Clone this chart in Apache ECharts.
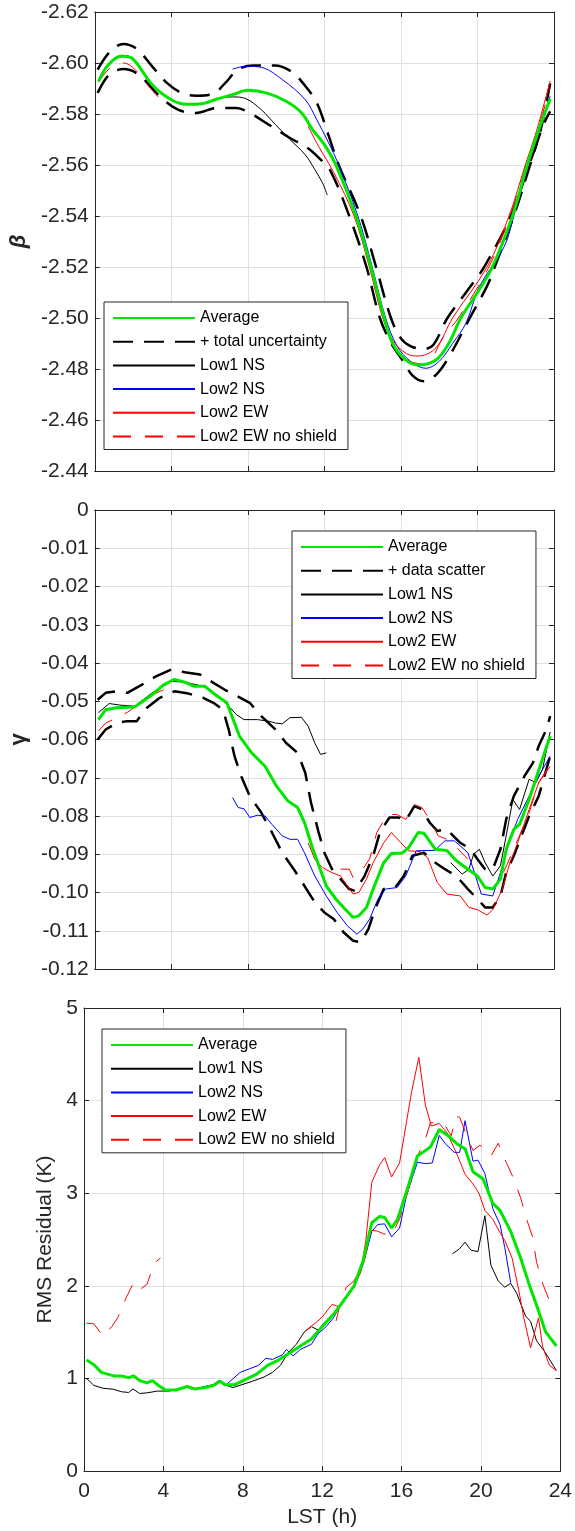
<!DOCTYPE html>
<html>
<head>
<meta charset="utf-8">
<script src="https://cdn.jsdelivr.net/npm/echarts@6/dist/echarts.min.js"></script>
<style>
html, body { margin: 0; padding: 0; background: #fff; }
#chart { width: 575px; height: 1531px; }
</style>
</head>
<body>
<div id="chart"></div>
<script>
// tick labels
const hourTicks = [0, 4, 8, 12, 16, 20, 24];
const betaTicks = [-2.62, -2.60, -2.58, -2.56, -2.54, -2.52, -2.50, -2.48, -2.46, -2.44];
const gammaTicks = [-0.12, -0.11, -0.10, -0.09, -0.08, -0.07, -0.06, -0.05, -0.04, -0.03, -0.02, -0.01, 0];
const rmsTicks = [0, 1, 2, 3, 4, 5];

// panel 1: beta  [LST h, value]
const avgBeta = [[0.2,-2.5928],[0.7,-2.5992],[1.4,-2.6026],[2.0,-2.6015],[3.0,-2.5915],[4.0,-2.5856],[4.8,-2.5838],[5.6,-2.5840],[6.4,-2.5859],[7.2,-2.5876],[8.0,-2.5893],[9.0,-2.5882],[10.0,-2.5850],[10.8,-2.5805],[11.4,-2.5737],[12.0,-2.5680],[12.6,-2.5600],[13.65,-2.5400],[14.43,-2.5200],[15.13,-2.5000],[15.57,-2.4900],[16.26,-2.4835],[16.96,-2.4816],[17.83,-2.4835],[18.5,-2.4900],[19.13,-2.5000],[20.0,-2.5100],[20.78,-2.5200],[21.83,-2.5400],[22.6,-2.5600],[23.2,-2.5737],[23.8,-2.5860]];
const upperBeta = [[0.15,-2.5974],[0.8,-2.6045],[1.5,-2.6075],[2.2,-2.6055],[3.0,-2.5987],[3.8,-2.5920],[4.6,-2.5880],[5.3,-2.5872],[6.2,-2.5880],[6.8,-2.5920],[7.5,-2.5975],[8.3,-2.5990],[9.4,-2.5990],[10.3,-2.5965],[11.0,-2.5910],[11.6,-2.5845],[12.2,-2.5720],[12.75,-2.5600],[13.9,-2.5400],[14.7,-2.5200],[15.48,-2.5000],[16.0,-2.4920],[16.5,-2.4890],[17.2,-2.4878],[17.7,-2.4895],[18.43,-2.5000],[19.4,-2.5100],[20.35,-2.5200],[21.74,-2.5400],[22.7,-2.5600],[23.3,-2.5737],[23.8,-2.5920]];
const lowerBeta = [[0.15,-2.5882],[0.75,-2.5954],[1.5,-2.5976],[2.3,-2.5954],[3.4,-2.5869],[4.35,-2.5817],[5.3,-2.5804],[6.4,-2.5824],[7.4,-2.5824],[8.1,-2.5804],[9.1,-2.5758],[10.2,-2.5706],[11.1,-2.5668],[11.74,-2.5626],[12.3,-2.5580],[13.3,-2.5400],[14.2,-2.5200],[14.9,-2.5000],[15.5,-2.4900],[16.1,-2.4833],[16.6,-2.4775],[17.2,-2.4752],[17.83,-2.4777],[18.5,-2.4846],[19.6,-2.5000],[20.5,-2.5125],[20.9,-2.5200],[21.9,-2.5400],[22.75,-2.5600],[23.4,-2.5750],[23.8,-2.5810]];
const low1Beta = [[0.2,-2.5935],[0.7,-2.5995],[1.4,-2.6030],[2.0,-2.6018],[3.0,-2.5918],[4.0,-2.5858],[4.8,-2.5838],[5.6,-2.5842],[6.4,-2.5860],[7.2,-2.5867],[7.9,-2.5860],[8.7,-2.5817],[9.45,-2.5758],[10.2,-2.5700],[11.0,-2.5640],[11.5,-2.5582],[11.9,-2.5530],[12.15,-2.5482]];
const low2nsBeta = [[7.2,-2.5976],[7.9,-2.5987],[8.7,-2.5983],[9.8,-2.5935],[11.0,-2.5856],[11.6,-2.5778],[12.2,-2.5690],[12.75,-2.5600],[13.75,-2.5400],[14.5,-2.5200],[15.2,-2.5000],[15.8,-2.4890],[16.5,-2.4830],[17.3,-2.4803],[18.0,-2.4830],[18.7,-2.4900],[19.4,-2.4980],[20.1,-2.5123],[21.4,-2.5280],[21.9,-2.5400],[22.65,-2.5600],[23.25,-2.5740],[23.8,-2.5870]];
const low2ewBeta = [[11.15,-2.5752],[11.7,-2.5673],[12.5,-2.5569],[13.55,-2.5400],[14.35,-2.5200],[15.05,-2.5000],[15.6,-2.4910],[16.3,-2.4860],[16.9,-2.4851],[17.83,-2.4883],[18.7,-2.5000],[20.5,-2.5200],[21.65,-2.5400],[22.5,-2.5600],[23.1,-2.5737],[23.8,-2.5930]];
const noShieldBetaA = [[0.2,-2.5925],[0.8,-2.5980],[1.5,-2.6000],[2.1,-2.5975],[2.8,-2.5910],[3.4,-2.5860]];
const noShieldBetaB = [[16.4,-2.4830],[17.2,-2.4818],[18.3,-2.4935],[19.0,-2.5000],[20.6,-2.5200],[21.7,-2.5400],[22.55,-2.5600],[23.15,-2.5737],[23.8,-2.5905]];

// panel 2: gamma
const avgGamma = [[0.19,-0.0548],[0.57,-0.0522],[1.13,-0.0517],[2.08,-0.0515],[3.0,-0.0483],[3.6,-0.0457],[4.16,-0.0443],[4.7,-0.0450],[5.2,-0.0461],[5.76,-0.0461],[6.3,-0.0483],[6.9,-0.0504],[7.56,-0.0591],[8.2,-0.0635],[8.9,-0.0670],[9.5,-0.0722],[10.1,-0.0761],[10.6,-0.0778],[10.96,-0.0817],[11.4,-0.0887],[12.1,-0.0983],[12.6,-0.1017],[13.0,-0.1039],[13.5,-0.1065],[13.8,-0.1061],[14.2,-0.1039],[14.55,-0.0991],[15.1,-0.0922],[15.5,-0.0898],[16.06,-0.0897],[16.4,-0.0883],[16.9,-0.0843],[17.2,-0.0845],[17.8,-0.0887],[18.4,-0.0890],[18.9,-0.0917],[19.5,-0.0939],[20.0,-0.0957],[20.4,-0.0987],[20.8,-0.0991],[21.2,-0.0965],[21.5,-0.0887],[21.9,-0.0835],[22.2,-0.0822],[22.7,-0.0757],[23.1,-0.0696],[23.5,-0.0635],[23.8,-0.0591]];
const upperGamma = [[0.15,-0.0496],[0.57,-0.0478],[1.13,-0.0474],[1.7,-0.0478],[2.45,-0.0457],[3.2,-0.0435],[4.0,-0.0417],[4.7,-0.0424],[5.5,-0.0430],[6.2,-0.0452],[6.8,-0.0470],[7.46,-0.0487],[8.1,-0.0504],[8.7,-0.0539],[9.45,-0.0574],[10.0,-0.0609],[10.6,-0.0635],[11.0,-0.0687],[11.3,-0.0765],[11.7,-0.0843],[12.0,-0.0896],[12.4,-0.0939],[12.85,-0.0965],[13.3,-0.0991],[13.6,-0.0996],[14.1,-0.0957],[14.55,-0.0904],[14.9,-0.0843],[15.4,-0.0804],[15.9,-0.0804],[16.25,-0.0813],[16.7,-0.0774],[17.1,-0.0783],[17.5,-0.0817],[17.9,-0.0839],[18.4,-0.0835],[19.1,-0.0870],[19.65,-0.0887],[20.0,-0.0913],[20.4,-0.0939],[20.8,-0.0939],[21.2,-0.0887],[21.5,-0.0809],[21.9,-0.0748],[22.45,-0.0696],[22.9,-0.0661],[23.2,-0.0617],[23.6,-0.0574],[23.8,-0.0539]];
const lowerGamma = [[0.15,-0.0600],[0.57,-0.0574],[1.13,-0.0557],[1.7,-0.0552],[2.2,-0.0552],[2.6,-0.0522],[3.4,-0.0491],[4.16,-0.0474],[4.9,-0.0480],[5.67,-0.0491],[6.2,-0.0504],[6.7,-0.0522],[7.0,-0.0574],[7.3,-0.0643],[7.65,-0.0696],[8.1,-0.0748],[8.7,-0.0791],[9.26,-0.0843],[9.8,-0.0896],[10.4,-0.0939],[10.96,-0.0983],[11.5,-0.1026],[12.0,-0.1052],[12.5,-0.1070],[13.0,-0.1104],[13.5,-0.1126],[13.9,-0.1130],[14.3,-0.1096],[14.65,-0.1043],[15.1,-0.0991],[15.7,-0.0987],[16.15,-0.0957],[16.6,-0.0904],[17.2,-0.0896],[17.8,-0.0922],[18.3,-0.0939],[18.9,-0.0957],[19.5,-0.0991],[20.0,-0.1017],[20.4,-0.1039],[20.8,-0.1039],[21.2,-0.1009],[21.5,-0.0948],[21.9,-0.0904],[22.3,-0.0852],[22.7,-0.0800],[23.2,-0.0748],[23.8,-0.0643]];
const low1GammaA = [[0.19,-0.0530],[0.75,-0.0506],[1.3,-0.0510],[2.08,-0.0513],[3.0,-0.0478],[4.0,-0.0448],[4.7,-0.0450],[5.67,-0.0461],[6.4,-0.0483],[7.0,-0.0513],[7.4,-0.0535],[7.8,-0.0548],[8.5,-0.0548],[9.07,-0.0552],[9.45,-0.0557],[9.8,-0.0559],[10.2,-0.0543],[10.8,-0.0542],[11.15,-0.0565],[11.5,-0.0609],[11.8,-0.0639],[12.1,-0.0635]];
const low1GammaB = [[18.6,-0.0922],[19.2,-0.0952],[19.55,-0.0939],[19.8,-0.0900],[20.1,-0.0887],[20.4,-0.0922],[20.8,-0.0957],[21.2,-0.0930],[21.5,-0.0852],[21.85,-0.0757],[22.2,-0.0783],[22.7,-0.0704],[23.05,-0.0713],[23.4,-0.0678],[23.8,-0.0580]];
const low2nsGamma = [[7.2,-0.0752],[7.5,-0.0778],[7.8,-0.0781],[8.1,-0.0804],[8.5,-0.0798],[8.9,-0.0800],[9.26,-0.0822],[9.8,-0.0852],[10.2,-0.0861],[10.6,-0.0861],[10.96,-0.0896],[11.5,-0.0957],[12.1,-0.1009],[12.66,-0.1052],[13.2,-0.1087],[13.7,-0.1109],[14.0,-0.1096],[14.36,-0.1070],[14.8,-0.1017],[15.2,-0.0991],[15.8,-0.0987],[16.25,-0.0957],[16.8,-0.0891],[17.4,-0.0890],[17.76,-0.0890],[18.3,-0.0865],[18.8,-0.0865],[19.5,-0.0896],[19.84,-0.0948],[20.2,-0.1004],[20.8,-0.1009],[21.2,-0.0948],[21.7,-0.0861],[22.1,-0.0809],[22.7,-0.0748],[23.2,-0.0696],[23.8,-0.0643]];
const low2ewGamma = [[11.15,-0.0870],[11.5,-0.0913],[11.9,-0.0935],[12.4,-0.0948],[12.85,-0.0957],[13.2,-0.0983],[13.5,-0.1004],[13.8,-0.1000],[14.2,-0.0965],[14.55,-0.0922],[15.1,-0.0870],[15.5,-0.0843],[16.0,-0.0870],[16.4,-0.0891],[17.0,-0.0893],[17.4,-0.0909],[17.9,-0.0974],[18.4,-0.1004],[19.1,-0.1009],[19.55,-0.1039],[20.0,-0.1045],[20.5,-0.1059],[20.8,-0.1045],[21.3,-0.0991],[21.65,-0.0930],[22.1,-0.0870],[22.7,-0.0783],[23.2,-0.0713],[23.8,-0.0670]];
const noShieldGammaA = [[0.19,-0.0578],[0.57,-0.0557],[0.95,-0.0548],[1.7,-0.0529],[2.27,-0.0509],[3.0,-0.0483],[3.6,-0.0470]];
const noShieldGammaB = [[12.85,-0.0939],[13.3,-0.0939],[13.5,-0.0961],[14.0,-0.0939],[14.36,-0.0913],[14.74,-0.0843],[15.3,-0.0796],[15.8,-0.0796],[16.25,-0.0809],[16.7,-0.0770],[17.1,-0.0778],[17.5,-0.0809],[17.95,-0.0852],[18.4,-0.0861],[19.0,-0.0887],[19.5,-0.0913]];
const noShieldGammaC = [[21.35,-0.0948],[21.9,-0.0887],[22.7,-0.0791],[23.2,-0.0713],[23.8,-0.0665]];

// panel 3: RMS residual (K)
const avgRms = [[0.13,1.198],[0.5,1.148],[0.87,1.065],[1.5,1.027],[1.88,1.027],[2.25,1.008],[2.5,1.027],[2.8,0.977],[3.17,0.951],[3.45,0.977],[3.7,0.932],[4.1,0.875],[4.65,0.875],[5.2,0.913],[5.57,0.886],[6.1,0.901],[6.5,0.920],[6.86,0.970],[7.1,0.932],[7.6,0.932],[8.15,0.989],[8.7,1.046],[9.25,1.141],[9.8,1.198],[10.36,1.274],[10.9,1.350],[11.46,1.426],[12.0,1.559],[12.57,1.692],[13.1,1.844],[13.6,1.996],[14.05,2.262],[14.5,2.681],[14.9,2.749],[15.15,2.738],[15.5,2.624],[15.8,2.719],[16.26,3.023],[16.8,3.403],[17.2,3.460],[17.45,3.498],[17.9,3.688],[18.4,3.612],[18.84,3.525],[19.2,3.479],[19.6,3.232],[20.1,3.156],[20.6,2.890],[20.96,2.814],[21.5,2.586],[22.0,2.300],[22.4,2.034],[22.9,1.730],[23.26,1.502],[23.8,1.350]];
const low1RmsA = [[0.13,1.000],[0.5,0.924],[0.95,0.894],[1.5,0.882],[1.88,0.856],[2.25,0.848],[2.47,0.886],[2.8,0.837],[3.17,0.844],[3.7,0.863],[4.3,0.863],[4.8,0.894],[5.2,0.913],[5.57,0.886],[6.1,0.913],[6.5,0.932],[6.8,0.977],[7.1,0.932],[7.5,0.901],[7.96,0.932],[8.5,0.970],[9.07,1.015],[9.5,1.065],[9.9,1.141],[10.27,1.274],[10.7,1.369],[11.1,1.502],[11.46,1.559],[11.8,1.521],[12.2,1.624]];
const low1RmsB = [[18.56,2.346],[18.9,2.395],[19.2,2.471],[19.5,2.384],[19.85,2.369],[20.2,2.757],[20.5,2.224],[20.87,2.053],[21.2,1.985],[21.5,2.027],[21.8,1.920],[22.25,1.673],[22.5,1.616],[22.8,1.407],[23.26,1.274],[23.8,1.084]];
const low2nsRms = [[7.2,0.939],[7.87,1.065],[8.33,1.103],[8.8,1.141],[9.16,1.217],[9.5,1.205],[10.0,1.255],[10.2,1.312],[10.54,1.243],[10.9,1.312],[11.46,1.369],[11.8,1.483],[12.2,1.559],[12.57,1.654],[13.1,1.863],[13.6,1.977],[14.05,2.224],[14.5,2.586],[14.8,2.662],[15.15,2.669],[15.5,2.529],[15.9,2.624],[16.26,2.985],[16.8,3.335],[17.2,3.319],[17.55,3.327],[17.9,3.624],[18.2,3.536],[18.65,3.441],[18.93,3.441],[19.2,3.783],[19.6,3.346],[19.85,3.357],[20.2,3.213],[20.6,2.833],[20.96,2.662],[21.2,2.414],[21.5,2.034]];
const low2ewRms = [[11.2,1.520],[11.65,1.597],[12.0,1.662],[12.5,1.800],[12.9,1.770],[13.5,1.958],[13.95,2.148],[14.2,2.490],[14.5,3.118],[14.9,3.308],[15.15,3.384],[15.5,3.175],[15.9,3.327],[16.26,3.783],[16.5,4.087],[16.87,4.468],[17.2,3.954],[17.5,3.726],[17.9,3.753],[18.3,3.650],[18.75,3.441],[19.2,3.205],[19.6,3.100],[19.9,3.000],[20.2,2.814],[20.6,2.719],[20.96,2.574],[21.2,2.490],[21.57,2.300],[21.9,1.958],[22.16,1.654],[22.5,1.331],[22.9,1.654],[23.1,1.350],[23.45,1.141],[23.8,1.084]];
const noShieldRmsA = [[0.13,1.597],[0.5,1.589],[0.95,1.456],[1.4,1.559],[1.7,1.654],[2.15,1.882],[2.5,2.034],[2.8,1.958],[3.17,2.015],[3.54,2.243],[3.85,2.300]];
const noShieldRmsB = [[12.7,1.62],[12.9,1.80],[13.2,1.98],[13.6,2.05],[14.1,2.25],[14.5,2.60],[14.8,2.59],[15.1,2.56],[15.5,2.55],[15.9,2.72],[16.3,3.00],[16.8,3.40],[17.2,3.58],[17.45,3.76],[17.9,3.77],[18.2,3.73],[18.5,3.62],[18.75,3.83],[18.93,3.82],[19.2,3.67],[19.6,3.46],[19.95,3.52],[20.5,3.40],[20.87,3.54],[21.2,3.37],[21.6,3.18],[22.0,2.95],[22.3,2.72],[22.6,2.53],[22.8,2.26],[23.1,2.03],[23.45,1.84]];

const FONT = '"Liberation Sans", Arial, Helvetica, sans-serif';
const AXIS = '#262626';
const GRIDLINE = '#e0e0e0';

const styles = {
    avg:      { color: '#00e600', width: 3, type: 'solid', z: 6 },
    band:     { color: '#000000', width: 2.5, type: [20, 11], z: 3 },
    low1:     { color: '#000000', width: 1, type: 'solid', z: 4 },
    low2ns:   { color: '#0000ff', width: 1, type: 'solid', z: 4 },
    low2ew:   { color: '#ff0000', width: 1, type: 'solid', z: 4 },
    noShield: { color: '#ff0000', width: 1, type: [18, 14], z: 4 }
};

// one ECharts series per continuous segment
function lines(name, segs, st, panel, smooth) {
    return segs.map(seg => ({
        name: name,
        type: 'line',
        xAxisIndex: panel * 2,
        yAxisIndex: panel * 2,
        data: seg,
        symbol: 'none',
        showSymbol: false,
        smooth: smooth ? 0.35 : false,
        z: st.z,
        silent: true,
        lineStyle: { color: st.color, width: st.width, type: st.type },
        itemStyle: { color: st.color }
    }));
}

function xAxes(gi, withLabels) {
    const base = {
        gridIndex: gi, type: 'value',
        min: hourTicks[0], max: hourTicks[hourTicks.length - 1], interval: hourTicks[1] - hourTicks[0],
        axisLine: { show: true, onZero: false, lineStyle: { color: AXIS, width: 1 } },
        axisTick: { show: true, inside: true, length: 5, lineStyle: { color: AXIS } }
    };
    return [
        Object.assign({}, base, {
            position: 'bottom',
            axisLabel: { show: withLabels, fontSize: 21, color: AXIS, fontFamily: FONT, margin: 10 },
            splitLine: { show: true, lineStyle: { color: GRIDLINE, width: 1 } },
            name: withLabels ? 'LST (h)' : '',
            nameLocation: 'middle', nameGap: 36,
            nameTextStyle: { fontSize: 21, color: AXIS, fontFamily: FONT }
        }),
        Object.assign({}, base, {
            position: 'top',
            axisLabel: { show: false },
            splitLine: { show: false }
        })
    ];
}

function yAxes(gi, ticks, opts) {
    const base = {
        gridIndex: gi, type: 'value',
        min: ticks[0], max: ticks[ticks.length - 1],
        interval: Math.round((ticks[1] - ticks[0]) * 1000) / 1000,
        inverse: !!opts.inverse,
        axisLine: { show: true, onZero: false, lineStyle: { color: AXIS, width: 1 } },
        axisTick: { show: true, inside: true, length: 5, lineStyle: { color: AXIS } }
    };
    return [
        Object.assign({}, base, {
            position: 'left',
            axisLabel: { show: true, fontSize: 21, color: AXIS, fontFamily: FONT, margin: 6, formatter: opts.fmt,
                         showMinLabel: true, showMaxLabel: true },
            splitLine: { show: true, lineStyle: { color: GRIDLINE, width: 1 } },
            name: opts.name, nameLocation: 'middle', nameGap: opts.gap,
            nameTextStyle: opts.nameStyle
        }),
        Object.assign({}, base, {
            position: 'right',
            axisLabel: { show: false },
            splitLine: { show: false }
        })
    ];
}

const legendBase = {
    orient: 'vertical',
    itemWidth: 82, itemHeight: 14, itemGap: 7.7,
    padding: [8, 11, 5, 8],
    borderColor: AXIS, borderWidth: 1, borderRadius: 0,
    backgroundColor: '#ffffff',
    selectedMode: false,
    itemStyle: { opacity: 0 },
    textStyle: { fontSize: 16, color: '#000', fontFamily: FONT, lineHeight: 16 }
};

const series = [].concat(
    lines('+ total uncertainty', [upperBeta, lowerBeta], styles.band, 0, true),
    lines('Low1 NS', [low1Beta], styles.low1, 0, true),
    lines('Low2 NS', [low2nsBeta], styles.low2ns, 0, true),
    lines('Low2 EW', [low2ewBeta], styles.low2ew, 0, true),
    lines('Low2 EW no shield', [noShieldBetaA, noShieldBetaB], styles.noShield, 0, true),
    lines('Average', [avgBeta], styles.avg, 0, true),

    lines('+ data scatter', [upperGamma, lowerGamma], styles.band, 1, false),
    lines('Low1 NS', [low1GammaA, low1GammaB], styles.low1, 1, false),
    lines('Low2 NS', [low2nsGamma], styles.low2ns, 1, false),
    lines('Low2 EW', [low2ewGamma], styles.low2ew, 1, false),
    lines('Low2 EW no shield', [noShieldGammaA, noShieldGammaB, noShieldGammaC], styles.noShield, 1, false),
    lines('Average', [avgGamma], styles.avg, 1, false),

    lines('Low1 NS', [low1RmsA, low1RmsB], styles.low1, 2, false),
    lines('Low2 NS', [low2nsRms], styles.low2ns, 2, false),
    lines('Low2 EW', [low2ewRms], styles.low2ew, 2, false),
    lines('Low2 EW no shield', [noShieldRmsA, noShieldRmsB], styles.noShield, 2, false),
    lines('Average', [avgRms], styles.avg, 2, false)
);

const option = {
    animation: false,
    backgroundColor: '#ffffff',
    grid: [
        { left: 88, top: 12, width: 466, height: 459 },
        { left: 88, top: 510, width: 466, height: 459 },
        { left: 84, top: 1008, width: 478, height: 463 }
    ],
    xAxis: [].concat(xAxes(0, false), xAxes(1, false), xAxes(2, true)),
    yAxis: [].concat(
        yAxes(0, betaTicks, { inverse: true, name: 'β', gap: 57, fmt: v => v.toFixed(2),
            nameStyle: { fontSize: 22, fontStyle: 'italic', fontWeight: 'bold', color: AXIS, fontFamily: FONT } }),
        yAxes(1, gammaTicks, { name: 'γ', gap: 57, fmt: v => Math.abs(v) < 1e-9 ? '0' : v.toFixed(2),
            nameStyle: { fontSize: 22, fontWeight: 'bold', color: AXIS, fontFamily: FONT } }),
        yAxes(2, rmsTicks, { name: 'RMS Residual (K)', gap: 16, fmt: v => String(Math.round(v)),
            nameStyle: { fontSize: 21, color: AXIS, fontFamily: FONT } })
    ),
    legend: [
        Object.assign({}, legendBase, { left: 104, top: 302,
            data: ['Average', '+ total uncertainty', 'Low1 NS', 'Low2 NS', 'Low2 EW', 'Low2 EW no shield'] }),
        Object.assign({}, legendBase, { left: 292, top: 531,
            data: ['Average', '+ data scatter', 'Low1 NS', 'Low2 NS', 'Low2 EW', 'Low2 EW no shield'] }),
        Object.assign({}, legendBase, { left: 102, top: 1029,
            data: ['Average', 'Low1 NS', 'Low2 NS', 'Low2 EW', 'Low2 EW no shield'] })
    ],
    series: series
};

const myChart = echarts.init(document.getElementById('chart'), null, { renderer: 'canvas' });
myChart.setOption(option);
</script>
</body>
</html>
